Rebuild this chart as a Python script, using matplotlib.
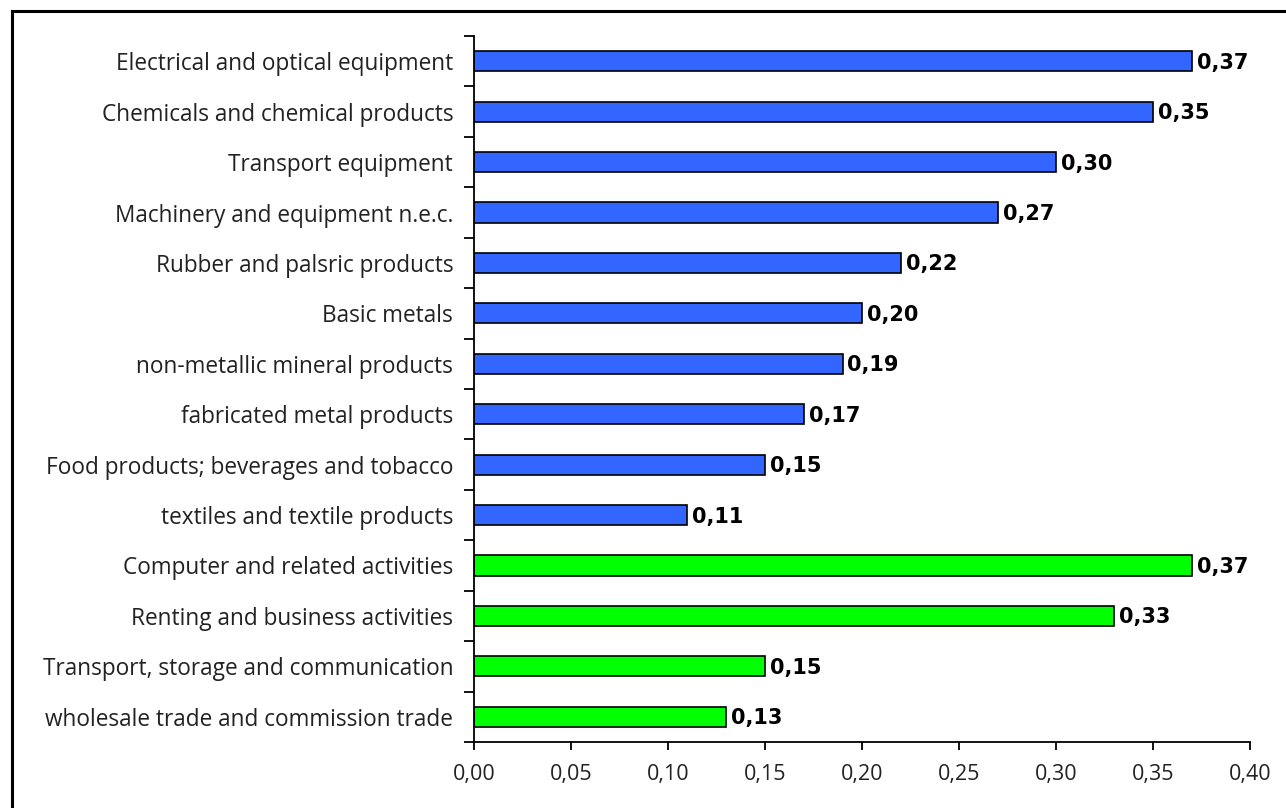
import matplotlib
matplotlib.use("Agg")
import matplotlib.pyplot as plt
from matplotlib.patches import Rectangle
from matplotlib.ticker import FuncFormatter, MultipleLocator

categories = [
    "Electrical and optical equipment",
    "Chemicals and chemical products",
    "Transport equipment",
    "Machinery and equipment n.e.c.",
    "Rubber and palsric products",
    "Basic metals",
    "non-metallic mineral products",
    "fabricated metal products",
    "Food products; beverages and tobacco",
    "textiles and textile products",
    "Computer and related activities",
    "Renting and business activities",
    "Transport, storage and communication",
    "wholesale trade and commission trade",
]
values = [0.37, 0.35, 0.30, 0.27, 0.22, 0.20, 0.19, 0.17, 0.15, 0.11,
          0.37, 0.33, 0.15, 0.13]
groups = ["manufacturing"] * 10 + ["services"] * 4
group_colors = {"manufacturing": "#3366FF", "services": "#00FF00"}

plt.rcParams["font.family"] = ["Open Sans", "DejaVu Sans"]

fig = plt.figure(figsize=(12.86, 8.08), dpi=100)
W, H = 1286, 808
ax = fig.add_axes([474 / W, 1 - 742 / H, (1250 - 474) / W, (742 - 36) / H])

n = len(categories)
ypos = list(range(n))
ax.barh(ypos, values, height=0.4,
        color=[group_colors[g] for g in groups],
        edgecolor="black", linewidth=1.2)

for y, v in zip(ypos, values):
    ax.text(v + 0.0025, y + 0.03, f"{v:.2f}".replace(".", ","), va="center",
            ha="left", fontsize=15, fontweight="bold", color="black",
            family="DejaVu Sans")

ax.set_ylim(n - 0.5, -0.5)
ax.set_xlim(0, 0.40)
ax.xaxis.set_major_locator(MultipleLocator(0.05))
ax.xaxis.set_major_formatter(FuncFormatter(lambda x, p: f"{x:.2f}".replace(".", ",")))

ax.set_yticks(ypos)
ax.set_yticklabels(categories, fontsize=16.3, color="#222222")
ax.set_yticks([i - 0.5 for i in range(n + 1)], minor=True)
ax.tick_params(axis="y", which="major", length=0, pad=15)
ax.tick_params(axis="y", which="minor", length=7, width=1.3, direction="out")
ax.tick_params(axis="x", which="major", length=6, width=1.3, direction="out",
               labelsize=15.5, pad=10, labelcolor="#222222")

for side in ("top", "right"):
    ax.spines[side].set_visible(False)
for side in ("left", "bottom"):
    ax.spines[side].set_linewidth(1.3)

# outer frame of the figure
fig.patches.append(Rectangle((11.5 / W, -0.1), 1.2, (H - 11.5) / H + 0.1,
                             transform=fig.transFigure, fill=False,
                             edgecolor="black", linewidth=2.2))

fig.savefig("out.png", dpi=100)
